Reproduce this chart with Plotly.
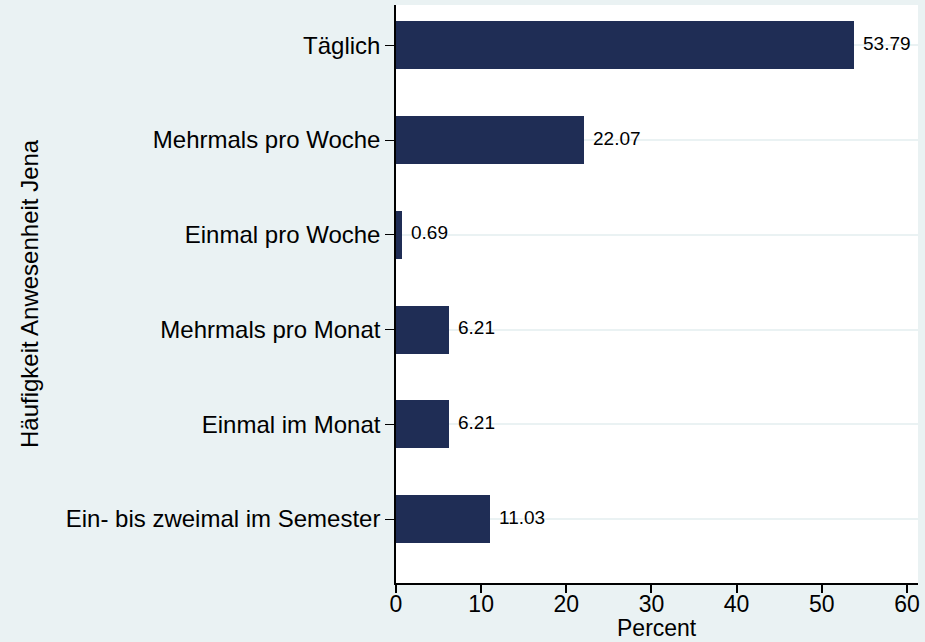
import plotly.graph_objects as go

categories = ["Täglich", "Mehrmals pro Woche", "Einmal pro Woche",
              "Mehrmals pro Monat", "Einmal im Monat", "Ein- bis zweimal im Semester"]
percent = [53.79, 22.07, 0.69, 6.21, 6.21, 11.03]
x_ticks = [0, 10, 20, 30, 40, 50, 60]

BG = "#eaf2f3"
BAR = "#1f2d55"
FONT = "Liberation Sans, Arial, sans-serif"

fig = go.Figure()
fig.add_trace(go.Bar(
    x=percent, y=categories, orientation="h",
    marker=dict(color=BAR, line=dict(width=0)),
    width=0.507, hoverinfo="x+y", showlegend=False,
))

annotations = []
for c, v in zip(categories, percent):
    annotations.append(dict(
        x=v, y=c, xref="x", yref="y", text=f"{v:.2f}", showarrow=False,
        xanchor="left", yanchor="middle", xshift=7, yshift=2,
        font=dict(family=FONT, size=19, color="#000000"),
    ))

L, R, T, B = 396, 7, 5, 59
W, H = 925, 642
pw = W - L - R
ph = H - T - B

annotations.append(dict(
    text="Häufigkeit Anwesenheit Jena", xref="paper", yref="paper",
    x=(29 - L) / pw, y=0.5, xanchor="center", yanchor="middle",
    textangle=-90, showarrow=False,
    font=dict(family=FONT, size=24, color="#000000"),
))
annotations.append(dict(
    text="Percent", xref="paper", yref="paper",
    x=0.5, y=-(628 - (H - B)) / ph, xanchor="center", yanchor="middle",
    showarrow=False, borderpad=0,
    font=dict(family=FONT, size=23, color="#000000"),
))

fig.update_layout(
    width=W, height=H,
    margin=dict(l=L, r=R, t=T, b=B, pad=0),
    paper_bgcolor=BG, plot_bgcolor="#ffffff",
    font=dict(family=FONT, color="#000000"),
    bargap=0,
    annotations=annotations,
    xaxis=dict(
        range=[0, 61.3], tickmode="array", tickvals=x_ticks,
        ticktext=[str(t) for t in x_ticks],
        showgrid=False, zeroline=False,
        showline=True, linecolor="#000000", linewidth=1.5,
        ticks="outside", ticklen=8, tickwidth=1.5, tickcolor="#000000",
        tickfont=dict(family=FONT, size=23, color="#000000"),
        ticklabelstandoff=-8,
        fixedrange=True,
    ),
    yaxis=dict(
        type="category", categoryorder="array",
        categoryarray=categories[::-1],
        range=[-0.675, 5.425],
        showgrid=True, gridcolor=BG, gridwidth=2,
        zeroline=False,
        showline=True, linecolor="#000000", linewidth=1.5,
        ticks="outside", ticklen=9, tickwidth=1.2, tickcolor="#000000",
        tickfont=dict(family=FONT, size=24, color="#000000"),
        ticklabelstandoff=0,
        fixedrange=True,
    ),
)

fig.write_html(
    "out.html",
    config={"displayModeBar": False},
    post_script="document.body.style.margin='0';document.body.style.padding='0';document.body.style.overflow='hidden';",
)
